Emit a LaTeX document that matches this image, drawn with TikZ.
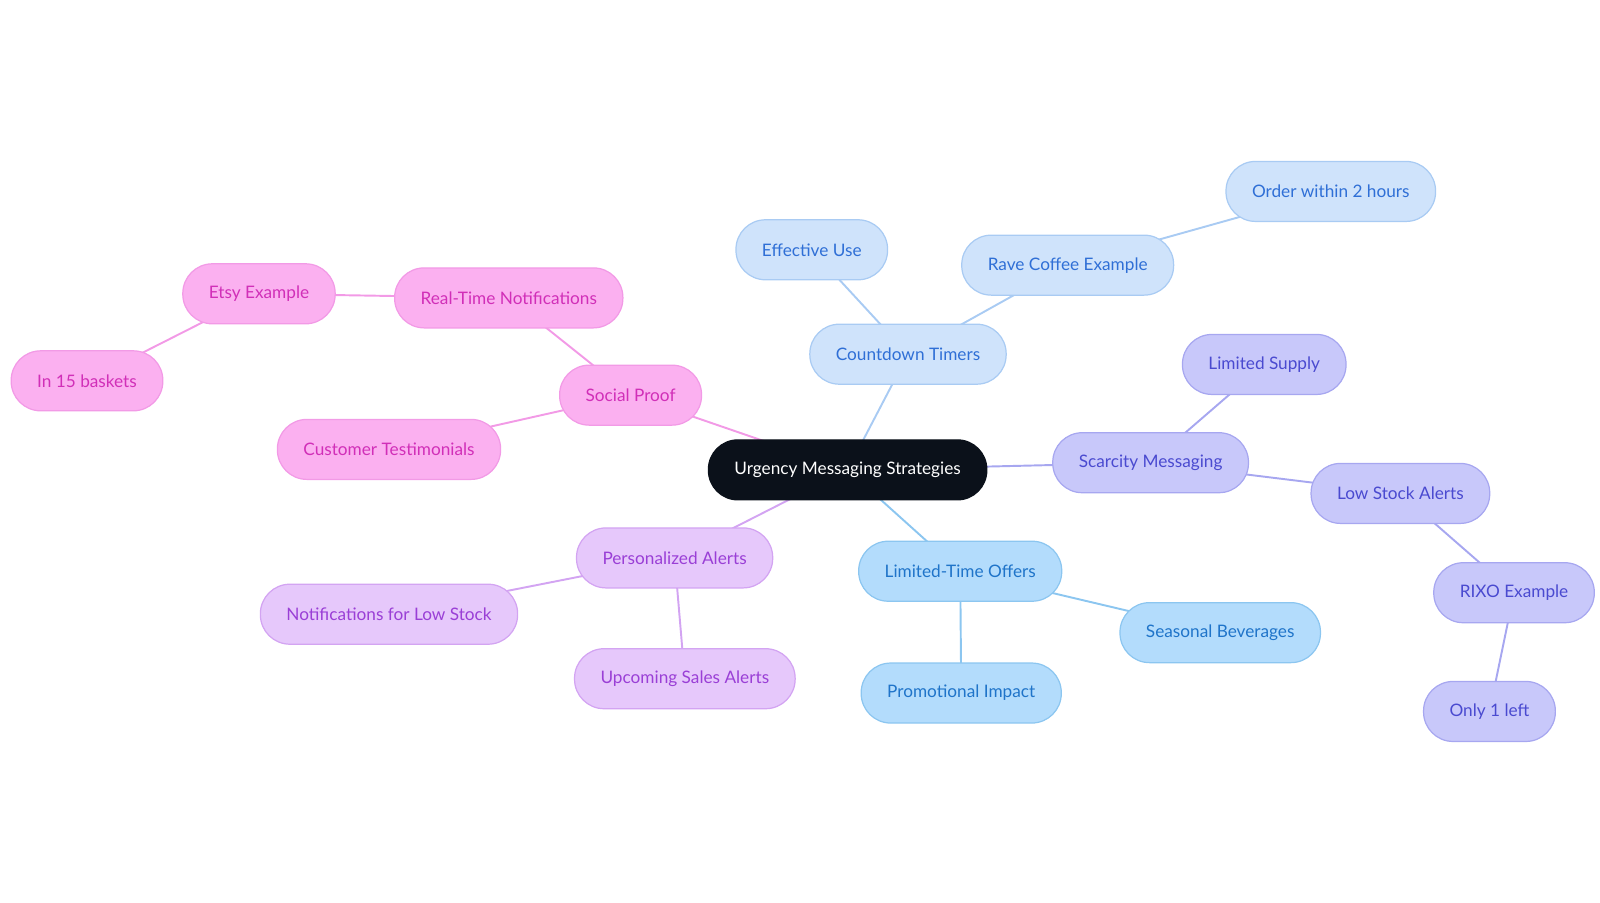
\documentclass[tikz,border=0pt]{standalone}
\usepackage{fontspec}
\setmainfont{Lato}
\usepackage{tikz}
\usetikzlibrary{backgrounds}
\usepackage{xcolor}

\definecolor{rootfill}{HTML}{0B111A}
\definecolor{cdfill}{HTML}{CFE3FB}\definecolor{cddraw}{HTML}{A9CBF3}\definecolor{cdtext}{HTML}{2F6FD6}
\definecolor{ltfill}{HTML}{B3DCFC}\definecolor{ltdraw}{HTML}{8CC6F0}\definecolor{lttext}{HTML}{1F74C9}
\definecolor{scfill}{HTML}{C8C8FA}\definecolor{scdraw}{HTML}{A7A7F0}\definecolor{sctext}{HTML}{4A4AD0}
\definecolor{pafill}{HTML}{E6C8FB}\definecolor{padraw}{HTML}{D3A4F2}\definecolor{patext}{HTML}{9A3FD6}
\definecolor{spfill}{HTML}{FBB0F0}\definecolor{spdraw}{HTML}{F29AE6}\definecolor{sptext}{HTML}{D12FB8}

\begin{document}
\begin{tikzpicture}[x=0.02047cm,y=-0.02047cm,
  pill/.style={rectangle,rounded corners=0.59cm,minimum height=1.2cm,inner xsep=0.52cm,
    font=\fontsize{9.8}{12}\selectfont,line width=0.7pt},
  cdbox/.style={pill,fill=cdfill,draw=cddraw,text=cdtext},
  ltbox/.style={pill,fill=ltfill,draw=ltdraw,text=lttext},
  scbox/.style={pill,fill=scfill,draw=scdraw,text=sctext},
  pabox/.style={pill,fill=pafill,draw=padraw,text=patext},
  spbox/.style={pill,fill=spfill,draw=spdraw,text=sptext},
  link/.style={line width=1.1pt}]
  \useasboundingbox (0,0) rectangle (1563,882);
  % Centre
  \node[pill,fill=rootfill,draw=rootfill,text=white] (root) at (828,459) {Urgency Messaging Strategies};
  % Countdown timers branch
  \node[cdbox] (cd) at (887,346) {Countdown Timers};
  \node[cdbox] (eff) at (793,244) {Effective Use};
  \node[cdbox] (rave) at (1043,259) {Rave Coffee Example};
  \node[cdbox] (order) at (1300,187) {Order within 2 hours};
  % Scarcity branch
  \node[scbox] (sc) at (1124,452) {Scarcity Messaging};
  \node[scbox] (supply) at (1235,356) {Limited Supply};
  \node[scbox] (low) at (1368,482) {Low Stock Alerts};
  \node[scbox] (rixo) at (1479,579) {RIXO Example};
  \node[scbox] (one) at (1455,695) {Only 1 left};
  % Limited-time branch
  \node[ltbox] (lt) at (938,558) {Limited-Time Offers};
  \node[ltbox] (season) at (1192,618) {Seasonal Beverages};
  \node[ltbox] (promo) at (939,677) {Promotional Impact};
  % Personalized branch
  \node[pabox] (pa) at (659,545) {Personalized Alerts};
  \node[pabox] (notif) at (380,600) {Notifications for Low Stock};
  \node[pabox] (sales) at (669,663) {Upcoming Sales Alerts};
  % Social proof branch
  \node[spbox] (sp) at (616,386) {Social Proof};
  \node[spbox] (rt) at (497,291) {Real-Time Notifications};
  \node[spbox] (etsy) at (253,287) {Etsy Example};
  \node[spbox] (bask) at (85,372) {In 15 baskets};
  \node[spbox] (cust) at (380,439) {Customer Testimonials};
  % Links
  \begin{scope}[on background layer]
    \draw[link,draw=cddraw] (root.center)--(cd.center) (cd.center)--(eff.center)
      (cd.center)--(rave.center) (rave.center)--(order.center);
    \draw[link,draw=scdraw] (root.center)--(sc.center) (sc.center)--(supply.center)
      (sc.center)--(low.center) (low.center)--(rixo.center) (rixo.center)--(one.center);
    \draw[link,draw=ltdraw] (root.center)--(lt.center) (lt.center)--(season.center)
      (lt.center)--(promo.center);
    \draw[link,draw=padraw] (root.center)--(pa.center) (pa.center)--(notif.center)
      (pa.center)--(sales.center);
    \draw[link,draw=spdraw] (root.center)--(sp.center) (sp.center)--(rt.center)
      (rt.center)--(etsy.center) (etsy.center)--(bask.center) (sp.center)--(cust.center);
  \end{scope}
\end{tikzpicture}
\end{document}
